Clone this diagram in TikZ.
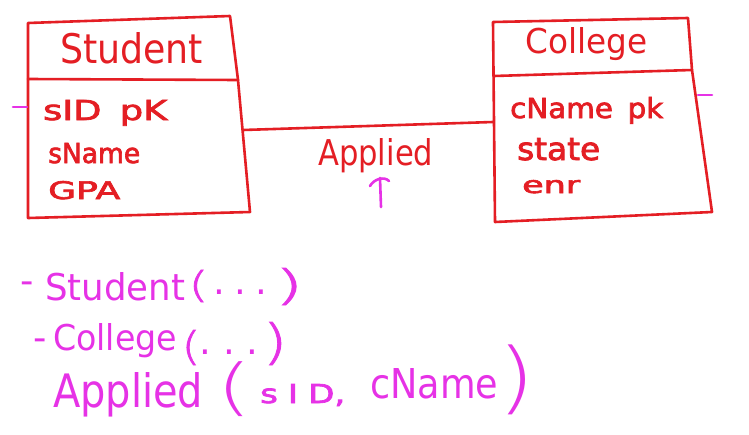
\documentclass[tikz,border=0pt]{standalone}
\usepackage{fontspec}
\setmainfont{DejaVu Sans}
\newfontfamily\semib[FakeBold=2.5]{DejaVu Sans}
\IfFontExistsTF{DejaVuSans-ExtraLight.ttf}
  {\newfontfamily\thinparen{DejaVuSans-ExtraLight.ttf}
   \newfontfamily\midparen[FakeBold=1.5]{DejaVuSans-ExtraLight.ttf}}
  {\newfontfamily\thinparen{DejaVu Sans}
   \newfontfamily\midparen{DejaVu Sans}}
\usepackage{graphicx}
\definecolor{hred}{RGB}{228,30,36}
\definecolor{hmag}{RGB}{230,50,230}
\newcommand\fitbox[3]{\resizebox{#1pt}{#2pt}{#3}}
\newcommand\fitbold[3]{\resizebox{#1pt}{#2pt}{\semib #3}}
\newcommand\fitall[3]{\resizebox*{#1pt}{#2pt}{\thinparen #3}}
\newcommand\fitreg[3]{\resizebox*{#1pt}{#2pt}{\midparen #3}}
\tikzset{
  rt/.style={text=hred, inner sep=0pt, anchor=base west},
  mt/.style={text=hmag, inner sep=0pt, anchor=base west},
  mp/.style={text=hmag, inner sep=0pt, anchor=center},
  redline/.style={draw=hred, line width=2.6pt, line cap=round, line join=round},
  magline/.style={draw=hmag, line width=2.6pt, line cap=round, line join=round},
}
\begin{document}
\begin{tikzpicture}[x=1pt,y=-1pt]
\path[use as bounding box, fill=white] (0,0) rectangle (749,434);

% Student table
\coordinate (sTL) at (28,23);
\coordinate (sTR) at (230,16);
\coordinate (sDL) at (28,79);
\coordinate (sDR) at (238,80);
\coordinate (sBR) at (250,212);
\coordinate (sBL) at (28,218);
\draw[redline] (sTL) -- (sTR) -- (sDR) -- (sBR) -- (sBL) -- cycle;
\draw[redline] (sDL) -- (sDR);
\node[rt] (stuName) at (60,63) {\fitbox{143}{31}{Student}};
\node[rt] (stuA1) at (43,120) {\fitbold{124}{20}{sID\hspace{0.5em}pK}};
\node[rt] (stuA2) at (48,163) {\fitbold{92}{20}{sName}};
\node[rt] (stuA3) at (48,199) {\fitbold{72}{18}{GPA}};

% College table
\coordinate (cTL) at (493,22);
\coordinate (cTR) at (688,18);
\coordinate (cDL) at (494,76);
\coordinate (cDR) at (692,70);
\coordinate (cBR) at (712,212);
\coordinate (cBL) at (495,222);
\draw[redline] (cTL) -- (cTR) -- (cDR) -- (cBR) -- (cBL) -- cycle;
\draw[redline] (cDL) -- (cDR);
\node[rt] (colName) at (525,53) {\fitbox{122}{26}{College}};
\node[rt] (colA1) at (510,118) {\fitbold{153}{21}{cName\hspace{0.5em}pk}};
\node[rt] (colA2) at (517,160) {\fitbold{83}{22}{state}};
\node[rt] (colA3) at (522,193) {\fitbold{58}{13}{enr}};

% relationship
\coordinate (sR) at (243,130);
\coordinate (cL) at (493,122);
\draw[redline] (sR) -- (cL);
\node[rt] (rel) at (318,165) {\fitbox{115}{27}{Applied}};

% magenta marks
\coordinate (tLa) at (13,107);
\coordinate (tLb) at (27,107);
\coordinate (tRa) at (698,95);
\coordinate (tRb) at (712,95);
\draw[magline] (tLa) -- (tLb);
\draw[magline] (tRa) -- (tRb);
\coordinate (arB) at (381,207);
\coordinate (arT) at (380,178);
\draw[magline] (arB) -- (arT);
\draw[magline] (370,186) .. controls (374,179) and (384,176) .. (389,181);

% bottom notes
\node[mt, font=\fontsize{37}{40}\selectfont] (d1) at (20.3,293.1) {-};
\node[mt] (l1w) at (45,300) {\fitbox{140}{28}{Student}};
\node[mp] (l1o) at (198.5,286) {\fitreg{20}{32}{(}};
\node[mt, font=\fontsize{37}{40}\selectfont] (l1d) at (213.7,294.5) {.\hspace{0.25em}.\hspace{0.25em}.};
\node[mp] (l1c) at (289,286.5) {\fitreg{30}{37}{)}};

\node[mt, font=\fontsize{37}{40}\selectfont] (d2) at (33.3,350.1) {-};
\node[mt] (l2w) at (53,350) {\fitbox{124}{27}{College}};
\node[mp] (l2o) at (191,347.5) {\fitreg{19}{35}{(}};
\node[mt, font=\fontsize{37}{40}\selectfont] (l2d) at (199.7,354.5) {.\hspace{0.31em}.\hspace{0.31em}.};
\node[mp] (l2c) at (275,343.5) {\fitreg{25}{43}{)}};

\node[mt] (l3w) at (53,407) {\fitbox{150}{35}{Applied}};
\node[mp] (l3o) at (235,389.5) {\fitall{36}{55}{(}};
\node[mt] (l3a) at (260,403) {\fitbold{85}{19}{s\hspace{0.3em}I\hspace{0.3em}D,}};
\node[mt] (l3b) at (370,398) {\fitbox{128}{30}{cName}};
\node[mp] (l3c) at (517,380) {\fitall{38}{70}{)}};
\end{tikzpicture}
\end{document}
